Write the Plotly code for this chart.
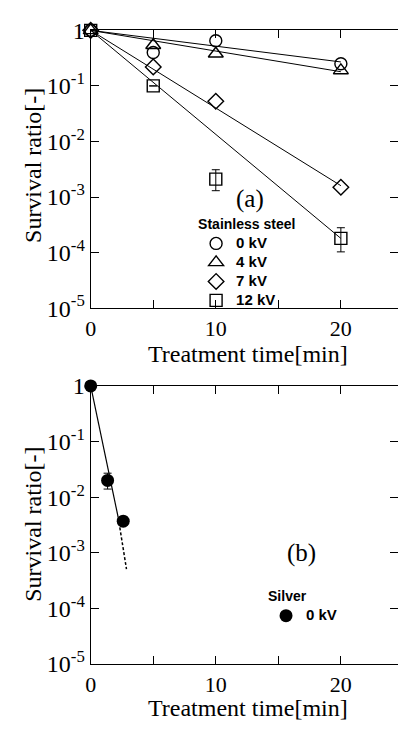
import plotly.graph_objects as go

# ---------------- data ----------------
t_ss = [0, 5, 10, 20]
ss_labels = ["0 kV", "4 kV", "7 kV", "12 kV"]
ss_0kV = [1.0, 0.40, 0.65, 0.25]
ss_4kV = [1.0, 0.54, 0.38, 0.19]
ss_7kV = [1.0, 0.22, 0.053, 0.0015]
ss_12kV = [1.0, 0.10, 0.0021, 0.00018]
ss_12kV_err_plus = [0, 0, 0.0010, 0.00010]
ss_12kV_err_minus = [0, 0, 0.0008, 0.000077]

fit_t = [0, 20]
fit_0kV = [1.0, 0.27]
fit_4kV = [1.0, 0.18]
fit_7kV = [1.0, 0.0016]
fit_12kV = [1.0, 0.00018]

t_ag = [0, 1.35, 2.6]
ag_0kV = [1.0, 0.020, 0.0037]
ag_err_plus = [0, 0.007, 0]
ag_err_minus = [0, 0.006, 0]
ag_fit_t = [0, 2.2]
ag_fit = [1.0, 0.0043]
ag_ext_t = [2.2, 2.86]
ag_ext = [0.0043, 0.00051]

ytick_vals = [1, 1e-1, 1e-2, 1e-3, 1e-4, 1e-5]
ytick_text = ["1", "10<sup>-1</sup>", "10<sup>-2</sup>", "10<sup>-3</sup>",
              "10<sup>-4</sup>", "10<sup>-5</sup>"]
xtick_vals = [0, 5, 10, 15, 20]
xtick_text = ["0", "", "10", "", "20"]

# ---------------- figure ----------------
W, H = 398, 732
SERIF = "Liberation Serif"
SANS = "Liberation Sans"

fig = go.Figure()

def px_y(p):
    return 1 - p / H

top_dom = [px_y(306), px_y(18)]
bot_dom = [px_y(675), px_y(386.7)]
x_dom = [86 / W, 1.0]
x_max = (W - 86) / 12.7

def leg_name(s):
    return '<span style="font-size:15px"><b>' + s + '</b></span>'

# fit lines (top)
for fy in [fit_0kV, fit_4kV, fit_7kV, fit_12kV]:
    fig.add_trace(go.Scatter(x=fit_t, y=fy, mode="lines", line=dict(color="black", width=1),
                             showlegend=False, xaxis="x", yaxis="y", hoverinfo="skip"))

symbols = ["circle-open", "triangle-up-open", "diamond-open", "square-open"]
sizes = [12, 13, 12, 12]
series = [ss_0kV, ss_4kV, ss_7kV, ss_12kV]
for i, (lab, ys) in enumerate(zip(ss_labels, series)):
    err = None
    if lab == "12 kV":
        err = dict(type="data", symmetric=False, array=ss_12kV_err_plus,
                   arrayminus=ss_12kV_err_minus, color="black", thickness=1, width=4)
    fig.add_trace(go.Scatter(
        x=t_ss, y=ys, mode="markers", name=leg_name(lab),
        marker=dict(symbol=symbols[i], size=sizes[i], color="black",
                    line=dict(color="black", width=1.4)),
        error_y=err, cliponaxis=False, xaxis="x", yaxis="y", legend="legend"))

# bottom panel
fig.add_trace(go.Scatter(x=ag_fit_t, y=ag_fit, mode="lines", line=dict(color="black", width=1.2),
                         showlegend=False, xaxis="x2", yaxis="y2", hoverinfo="skip"))
fig.add_trace(go.Scatter(x=ag_ext_t, y=ag_ext, mode="lines",
                         line=dict(color="black", width=1.5, dash="3px,2px"),
                         showlegend=False, xaxis="x2", yaxis="y2", hoverinfo="skip"))
fig.add_trace(go.Scatter(
    x=t_ag, y=ag_0kV, mode="markers", name=leg_name("0 kV"),
    marker=dict(symbol="circle", size=13, color="black"),
    error_y=dict(type="data", symmetric=False, array=ag_err_plus, arrayminus=ag_err_minus,
                 color="black", thickness=1, width=4),
    cliponaxis=False, xaxis="x2", yaxis="y2", legend="legend2"))

# empty traces to carry right-side tick axes
fig.add_trace(go.Scatter(x=[], y=[], xaxis="x", yaxis="y3", showlegend=False))
fig.add_trace(go.Scatter(x=[], y=[], xaxis="x2", yaxis="y4", showlegend=False))

xax = dict(range=[0, x_max], domain=x_dom, tickmode="array", tickvals=xtick_vals,
           ticktext=xtick_text, ticks="inside", ticklen=8, tickwidth=1, tickcolor="black",
           showline=True, linecolor="black", linewidth=1.2, mirror="ticks",
           showgrid=False, zeroline=False,
           tickfont=dict(family=SERIF, size=22, color="black"))
yax = dict(type="log", range=[-5, 0], tickmode="array", tickvals=ytick_vals,
           ticktext=ytick_text, ticks="inside", ticklen=8, tickwidth=1, tickcolor="black",
           showline=True, linecolor="black", linewidth=1.2, mirror=False,
           showgrid=False, zeroline=False,
           tickfont=dict(family=SERIF, size=24, color="black"))
yax_r = dict(type="log", range=[-5, 0], tickmode="array", tickvals=ytick_vals,
             ticks="inside", ticklen=8, tickwidth=1, tickcolor="black",
             showticklabels=False, showline=False, showgrid=False, zeroline=False,
             side="right")

fig.update_layout(
    width=W, height=H, margin=dict(l=0, r=0, t=0, b=0),
    paper_bgcolor="white", plot_bgcolor="white",
    xaxis=dict(**xax, anchor="y"),
    yaxis=dict(**yax, domain=top_dom, anchor="x"),
    xaxis2=dict(**xax, anchor="y2"),
    yaxis2=dict(**yax, domain=bot_dom, anchor="x2"),
    yaxis3=dict(**yax_r, overlaying="y", anchor="x"),
    yaxis4=dict(**yax_r, overlaying="y2", anchor="x2"),
    legend=dict(x=193 / W, y=px_y(205), xanchor="left", yanchor="top",
                title=dict(text="<b>Stainless steel</b>", font=dict(family=SANS, size=14, color="black")),
                font=dict(family=SANS, size=12, color="black"), bgcolor="rgba(0,0,0,0)",
                tracegroupgap=0),
    legend2=dict(x=264 / W, y=px_y(591), xanchor="left", yanchor="top",
                 title=dict(text="<b>Silver</b>", font=dict(family=SANS, size=14, color="black")),
                 font=dict(family=SANS, size=12, color="black"), bgcolor="rgba(0,0,0,0)",
                 tracegroupgap=0),
    showlegend=True,
)

ann = [
    dict(text="Survival ratio[-]", x=28 / W, y=px_y(158), textangle=-90, size=24),
    dict(text="Treatment time[min]", x=246 / W, y=px_y(354), size=24),
    dict(text="Survival ratio[-]", x=28 / W, y=px_y(530), textangle=-90, size=24),
    dict(text="Treatment time[min]", x=246 / W, y=px_y(721), size=24),
    dict(text="(a)", x=248 / W, y=px_y(193), size=25),
    dict(text="(b)", x=300 / W, y=px_y(560), size=25),
]
for a in ann:
    size = a.pop("size")
    fig.add_annotation(xref="paper", yref="paper", showarrow=False,
                       font=dict(family=SERIF, size=size, color="black"),
                       xanchor="center", yanchor="middle", **a)

fig.write_html("out.html")
